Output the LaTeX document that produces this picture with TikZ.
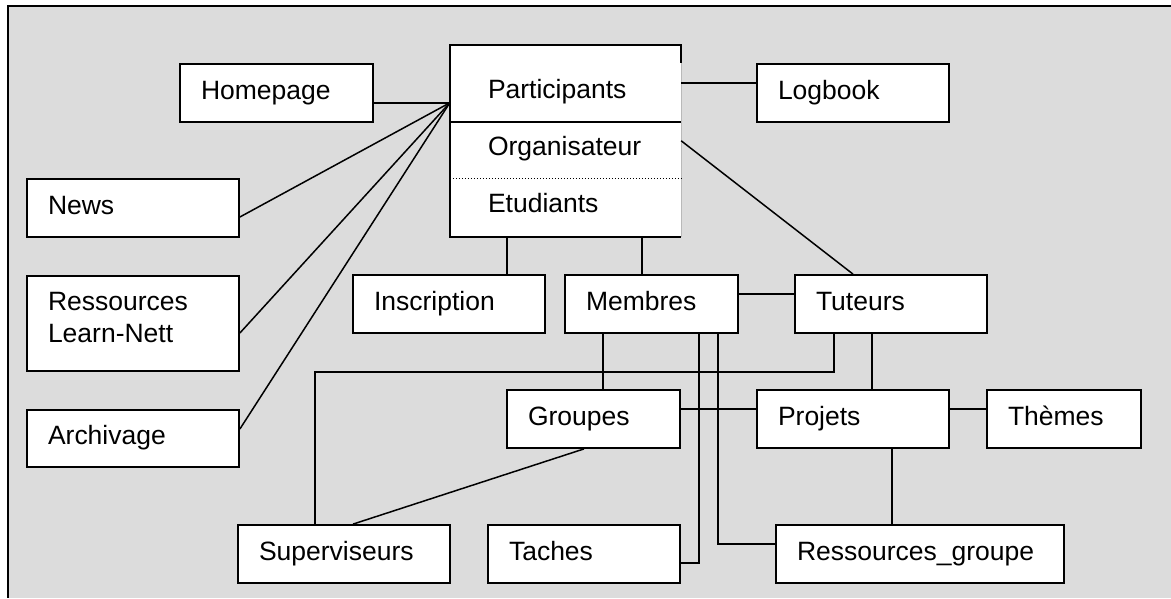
\documentclass[tikz,border=0pt]{standalone}
\usepackage{fontspec}
\setmainfont{Liberation Sans}
\usetikzlibrary{positioning}
\definecolor{fond}{RGB}{220,220,220}

\begin{document}
\begin{tikzpicture}[
    x=1pt, y=-1pt,
    font=\fontsize{26.5}{32}\selectfont,
    box/.style={
        draw,
        fill=white,
        line width=1.8pt,
        minimum height=58pt,
        inner xsep=21pt,
        inner ysep=0pt,
        align=left,
        text height=19pt,
        text depth=7pt
    },
    lbl/.style={inner sep=0pt, anchor=base west},
    link/.style={line width=1.5pt}
]
    %% Fond
    \useasboundingbox (0,0) rectangle (1171,598);
    \fill[fond] (8,6) rectangle (1171,598);
    \draw[line width=2.2pt] (1171,6) -- (8,6) -- (8,598);

    %% Colonne de gauche
    \node[box, text width=151pt] (home) at (276.5,93) {Homepage};
    \node[box, text width=170pt] (news) at (133,208) {News};
    \node[box, text width=170pt, minimum height=95pt, text depth=45pt] (resln) at (133,323.5) {Ressources\\Learn-Nett};
    \node[box, text width=170pt, minimum height=57pt] (archiv) at (133,438.5) {Archivage};

    %% Participants
    \node[fill=white, inner sep=0pt, minimum width=231pt, minimum height=192pt] (partbox) at (565.5,141) {};
    \draw[line width=1.8pt] ([yshift=-18pt]partbox.north east) -- (partbox.north east)
        -- (partbox.north west) -- (partbox.south west) -- (partbox.south east);
    \draw[gray!55, line width=0.6pt] ([yshift=-18pt]partbox.north east) -- (partbox.south east);
    \draw[line width=1.4pt] ([yshift=-77pt]partbox.north west) -- ([yshift=-77pt]partbox.north east);
    \draw[dotted, line width=1pt] ([yshift=-134pt]partbox.north west) -- ([yshift=-134pt]partbox.north east);
    \node[lbl] (partic) at ([xshift=38pt, yshift=-54pt]partbox.north west) {Participants};
    \node[lbl] (orga) at ([xshift=38pt, yshift=-111pt]partbox.north west) {Organisateur};
    \node[lbl] (etud) at ([xshift=38pt, yshift=-168pt]partbox.north west) {Etudiants};
    \coordinate (fan) at ([yshift=-58pt]partbox.north west);

    %% Autres entites
    \node[box, text width=150pt] (logbook) at (853,93) {Logbook};
    \node[box, text width=150pt] (inscr) at (449,304) {Inscription};
    \node[box, text width=131pt] (membres) at (651.5,304) {Membres};
    \node[box, text width=150pt] (tuteurs) at (891,304) {Tuteurs};
    \node[box, text width=131pt] (groupes) at (593.5,419) {Groupes};
    \node[box, text width=150pt] (projets) at (853,419) {Projets};
    \node[box, text width=112pt] (themes) at (1064,419) {Thèmes};
    \node[box, text width=170pt] (superv) at (344,554) {Superviseurs};
    \node[box, text width=150pt] (taches) at (584,554) {Taches};
    \node[box, text width=246pt] (resgr) at (920,554) {Ressources\_groupe};

    %% Liens vers Participants
    \draw[link] (home.east |- fan) -- (fan);
    \draw[link] ([yshift=-9pt]news.east) -- (fan);
    \draw[link] ([yshift=-9.5pt]resln.east) -- (fan);
    \draw[link] ([yshift=9.5pt]archiv.east) -- (fan);
    \coordinate (plog) at ([yshift=-38pt]partbox.north east);
    \draw[link] (plog) -- (plog -| logbook.west);
    \draw[link] ([yshift=-96pt]partbox.north east) -- ([xshift=-38pt]tuteurs.north);
    \draw[link] ([xshift=58pt]inscr.north) -- ([xshift=58pt]inscr.north |- partbox.south);
    \draw[link] ([xshift=-9.5pt]membres.north) -- ([xshift=-9.5pt]membres.north |- partbox.south);

    %% Liens entre entites
    \draw[link] ([yshift=10pt]membres.east) -- ([yshift=10pt]tuteurs.west);
    \draw[link] ([xshift=9.5pt]groupes.north) -- ([xshift=9.5pt]groupes.north |- membres.south);
    \draw[link] ([xshift=47.5pt]membres.south) |- ([yshift=-9pt]taches.east);
    \draw[link] ([xshift=66.5pt]membres.south) |- ([yshift=10pt]resgr.west);
    \draw[link] ([yshift=10pt]groupes.east) -- ([yshift=10pt]projets.west);
    \draw[link] ([xshift=-57pt]tuteurs.south) -- ++(0,38) -| ([xshift=-29pt]superv.north);
    \draw[link] ([xshift=-19pt]tuteurs.south) -- ([xshift=19pt]projets.north);
    \draw[link] ([yshift=10pt]projets.east) -- ([yshift=10pt]themes.west);
    \draw[link] ([xshift=39pt]projets.south) -- ([xshift=-28pt]resgr.north);
    \draw[link] ([xshift=-9.5pt]groupes.south) -- ([xshift=9pt]superv.north);
\end{tikzpicture}
\end{document}
